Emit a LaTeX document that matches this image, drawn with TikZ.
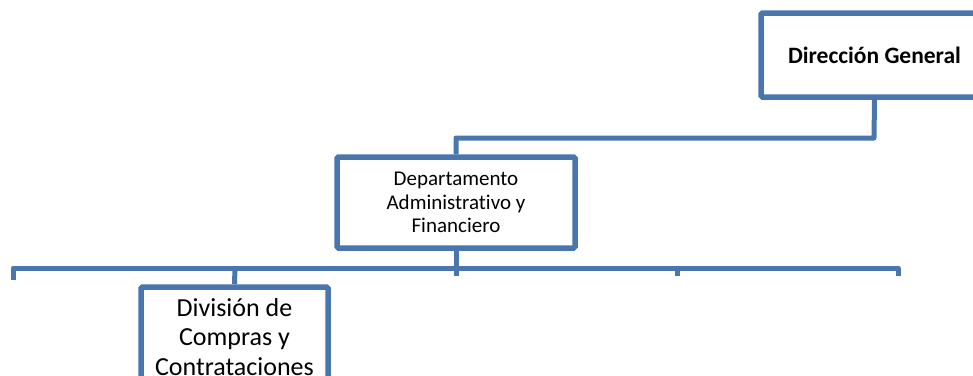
\documentclass[tikz,border=0pt]{standalone}
\usepackage{fontspec}
\setmainfont{Carlito}[Ligatures=NoCommon]
\definecolor{lineblue}{RGB}{74,118,174}
\begin{document}
\begin{tikzpicture}[x=1pt,y=-1pt,
  orgbox/.style={draw=lineblue,line width=5.5pt,rounded corners=1.5pt,fill=white,inner sep=0pt,align=center},
  conn/.style={draw=lineblue,line width=5pt,line join=round}]
\useasboundingbox (0,0) rectangle (973,375);
\clip (0,0) rectangle (973,375);
\node[orgbox,minimum width=227pt,minimum height=84pt,font=\fontsize{23.5}{28}\selectfont\bfseries] (dg) at (874.5,55) {Dirección General};
\node[orgbox,minimum width=238pt,minimum height=91pt,font=\fontsize{21}{23.5}\selectfont] (dept) at (456,202.5) {Departamento\\Administrativo y\\Financiero};
\node[orgbox,minimum width=187pt,minimum height=100pt,font=\fontsize{26}{29.5}\selectfont] (div) at (234.5,337) {División de\\Compras y\\Contrataciones};
\coordinate (turn) at (874,138);
\coordinate (busL) at (13,268);
\coordinate (busR) at (898,268);
\coordinate (dropL) at (13,280);
\coordinate (dropR) at (898,276);
\coordinate (busM) at (456,276);
\coordinate (bus3a) at (677,268);
\coordinate (bus3b) at (677,276);
\coordinate (busD) at (235,268);
\draw[conn] (dg.south) -- (turn) -| (dept.north);
\draw[conn] (dropL) -- (busL) -- (busR) -- (dropR);
\draw[conn] (dept.south) -- (busM);
\draw[conn] (bus3a) -- (bus3b);
\draw[conn] (busD) -- (div.north);
\end{tikzpicture}
\end{document}
